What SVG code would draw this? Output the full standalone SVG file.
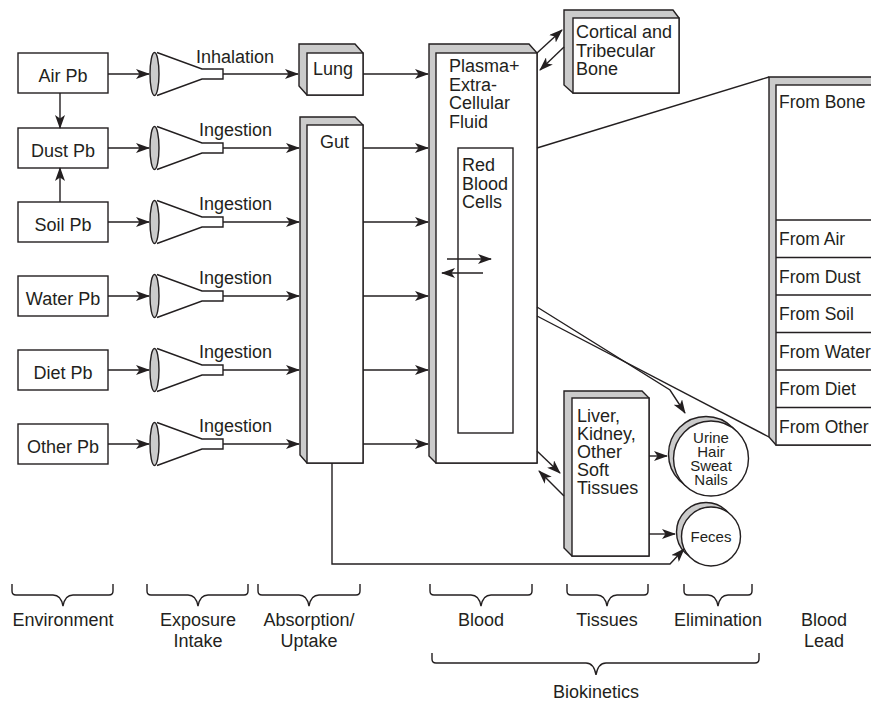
<svg xmlns="http://www.w3.org/2000/svg" width="871" height="702" viewBox="0 0 871 702">
<defs>
<style>
text{font-family:"Liberation Sans",Arial,sans-serif;font-size:18px;fill:#231f20}
.s{font-size:15px}
.t{font-size:17.5px}
.c{text-anchor:middle}
.ln{fill:none;stroke:#231f20;stroke-width:1.4}
.box{fill:#fff;stroke:#231f20;stroke-width:1.4}
.gr{fill:#cbcbcb;stroke:#231f20;stroke-width:1.4}
.ar{fill:none;stroke:#231f20;stroke-width:1.4;marker-end:url(#ah)}
</style>
<marker id="ah" viewBox="0 0 14 10" refX="13" refY="5" markerWidth="14" markerHeight="10" markerUnits="userSpaceOnUse" orient="auto">
<path d="M0,0 L14,5 L0,10 L3.5,5 z" fill="#231f20"/>
</marker>
<g id="funnelShape">
<ellipse cx="154.5" cy="0" rx="4.5" ry="21.5" class="gr"/>
<path d="M157,-21.5 L202,-5 L223,-5 L223,5 L202,5 L157,21.5" class="ln"/>
</g>
</defs>
<rect width="871" height="702" fill="#fff"/>

<!-- Environment sources -->
<g id="air"><rect x="18" y="53" width="90" height="40" class="box"/><text x="63" y="82" class="c">Air Pb</text></g>
<g id="dust"><rect x="18" y="128" width="90" height="40" class="box"/><text x="63" y="157" class="c">Dust Pb</text></g>
<g id="soil"><rect x="18" y="202" width="90" height="40" class="box"/><text x="63" y="231" class="c">Soil Pb</text></g>
<g id="water"><rect x="18" y="276" width="90" height="40" class="box"/><text x="63" y="305" class="c">Water Pb</text></g>
<g id="diet"><rect x="18" y="350" width="90" height="40" class="box"/><text x="63" y="379" class="c">Diet Pb</text></g>
<g id="other"><rect x="18" y="424" width="90" height="40" class="box"/><text x="63" y="453" class="c">Other Pb</text></g>

<!-- Funnels -->
<g id="funnel1"><use href="#funnelShape" y="74"/><text x="196" y="63">Inhalation</text></g>
<g id="funnel2"><use href="#funnelShape" y="148"/><text x="199" y="136">Ingestion</text></g>
<g id="funnel3"><use href="#funnelShape" y="222"/><text x="199" y="210">Ingestion</text></g>
<g id="funnel4"><use href="#funnelShape" y="296"/><text x="199" y="284">Ingestion</text></g>
<g id="funnel5"><use href="#funnelShape" y="370"/><text x="199" y="358">Ingestion</text></g>
<g id="funnel6"><use href="#funnelShape" y="444"/><text x="199" y="432">Ingestion</text></g>

<!-- Lung -->
<g id="lung">
<polygon points="299,44 355,44 363,53 363,95 307,95 299,86" class="gr"/>
<rect x="307" y="53" width="56" height="42" class="box"/>
<text x="313" y="75">Lung</text>
</g>

<!-- Gut -->
<g id="gut">
<polygon points="300,117 355,117 363,125 363,463 307,463 300,455" class="gr"/>
<rect x="307" y="125" width="56" height="338" class="box"/>
<text x="320" y="148">Gut</text>
</g>

<!-- Plasma -->
<g id="plasma">
<polygon points="429,44 529,44 537,53 537,463 436,463 429,456" class="gr"/>
<rect x="436" y="53" width="101" height="410" class="box"/>
<text x="449" y="72">Plasma+</text>
<text x="449" y="90.5">Extra-</text>
<text x="449" y="109">Cellular</text>
<text x="449" y="127.5">Fluid</text>
</g>
<g id="rbc">
<rect x="458" y="148" width="55" height="285" class="box"/>
<text x="462" y="171">Red</text>
<text x="462" y="189.5">Blood</text>
<text x="462" y="208">Cells</text>
</g>

<!-- Bone -->
<g id="bone">
<polygon points="564,10 673,10 679,18 679,93 573,93 564,85" class="gr"/>
<rect x="573" y="18" width="106" height="75" class="box"/>
<text x="576" y="38">Cortical and</text>
<text x="576" y="56.5">Tribecular</text>
<text x="576" y="75">Bone</text>
</g>

<!-- Tissues -->
<g id="tissues">
<polygon points="564,391 642,391 649,398 649,556 572,556 564,548" class="gr"/>
<rect x="572" y="398" width="77" height="158" class="box"/>
<text x="577" y="422">Liver,</text>
<text x="577" y="440">Kidney,</text>
<text x="577" y="458">Other</text>
<text x="577" y="476">Soft</text>
<text x="577" y="494">Tissues</text>
</g>

<!-- Urine -->
<g id="urine">
<circle cx="706" cy="454" r="37.5" class="gr"/>
<circle cx="711" cy="458.5" r="37.5" class="box"/>
<text x="711" y="443" class="s c">Urine</text>
<text x="711" y="457" class="s c">Hair</text>
<text x="711" y="471" class="s c">Sweat</text>
<text x="711" y="485" class="s c">Nails</text>
</g>

<!-- Feces -->
<g id="feces">
<circle cx="706" cy="532" r="29.5" class="gr"/>
<circle cx="711" cy="536.5" r="29.5" class="box"/>
<text x="711" y="542" class="s c">Feces</text>
</g>

<!-- Blood lead table -->
<g id="table">
<polygon points="769,77 890,77 890,445 776,445 769,437" class="gr"/>
<rect x="776" y="85" width="114" height="360" class="box"/>
<path d="M776,220 H871 M776,257.5 H871 M776,295 H871 M776,332.5 H871 M776,370 H871 M776,407.5 H871" class="ln"/>
<text x="779" y="108" class="t">From Bone</text>
<text x="779" y="245" class="t">From Air</text>
<text x="779" y="282.5" class="t">From Dust</text>
<text x="779" y="320" class="t">From Soil</text>
<text x="779" y="357.5" class="t">From Water</text>
<text x="779" y="395" class="t">From Diet</text>
<text x="779" y="432.5" class="t">From Other</text>
</g>

<!-- Connectors -->
<g id="connectors">
<path d="M60,93 V128" class="ar"/>
<path d="M60,202 V168" class="ar"/>
<path d="M108,74 H149" class="ar"/>
<path d="M108,148 H149" class="ar"/>
<path d="M108,222 H149" class="ar"/>
<path d="M108,296 H149" class="ar"/>
<path d="M108,370 H149" class="ar"/>
<path d="M108,444 H149" class="ar"/>
<path d="M223,74 H298" class="ar"/>
<path d="M223,148 H299" class="ar"/>
<path d="M223,222 H299" class="ar"/>
<path d="M223,296 H299" class="ar"/>
<path d="M223,370 H299" class="ar"/>
<path d="M223,444 H299" class="ar"/>
<path d="M363,74 H428" class="ar"/>
<path d="M363,148 H428" class="ar"/>
<path d="M363,222 H428" class="ar"/>
<path d="M363,296 H428" class="ar"/>
<path d="M363,370 H428" class="ar"/>
<path d="M363,444 H428" class="ar"/>
<path d="M447,259 H491" class="ar"/>
<path d="M483,273 H442" class="ar"/>
<path d="M537,53 L562,30" class="ar"/>
<path d="M564,47 L540,70" class="ar"/>
<path d="M537,451 L560,473" class="ar"/>
<path d="M564,496 L539,471" class="ar"/>
<path d="M649,456 H667" class="ar"/>
<path d="M649,534 H675" class="ar"/>
<path d="M537,307 L670,390 L685,413" class="ar"/>
<path d="M332,463 V564 H670 L684,549" class="ar"/>
<path d="M537,148 L769,77" class="ln"/>
<path d="M537,316 L769,437" class="ln"/>
</g>

<!-- Braces and stage labels -->
<g id="braces" class="ln">
<path d="M12,584 V591 Q12,595 16,595 H53 Q61,595 63,606 Q65,595 73,595 H109 Q113,595 113,591 V584"/>
<path d="M147,584 V591 Q147,595 151,595 H188 Q196,595 198,606 Q200,595 208,595 H244 Q248,595 248,591 V584"/>
<path d="M258,584 V591 Q258,595 262,595 H299 Q307,595 309,606 Q311,595 319,595 H356 Q360,595 360,591 V584"/>
<path d="M430,584 V591 Q430,595 434,595 H471 Q479,595 481,606 Q483,595 491,595 H528 Q532,595 532,591 V584"/>
<path d="M567,584 V591 Q567,595 571,595 H597 Q605,595 607,606 Q609,595 617,595 H644 Q648,595 648,591 V584"/>
<path d="M684,584 V591 Q684,595 688,595 H708 Q716,595 718,606 Q720,595 728,595 H748 Q752,595 752,591 V584"/>
<path d="M432,653 V659 Q432,663 436,663 H586 Q594,663 596,675 Q598,663 606,663 H755 Q759,663 759,659 V653"/>
</g>
<g id="labels">
<text x="63" y="626" class="c">Environment</text>
<text x="198" y="626" class="c">Exposure</text>
<text x="198" y="647" class="c">Intake</text>
<text x="309" y="626" class="c">Absorption/</text>
<text x="309" y="647" class="c">Uptake</text>
<text x="481" y="626" class="c">Blood</text>
<text x="607" y="626" class="c">Tissues</text>
<text x="718" y="626" class="c">Elimination</text>
<text x="824" y="626" class="c">Blood</text>
<text x="824" y="647" class="c">Lead</text>
<text x="596" y="698" class="c">Biokinetics</text>
</g>
</svg>
